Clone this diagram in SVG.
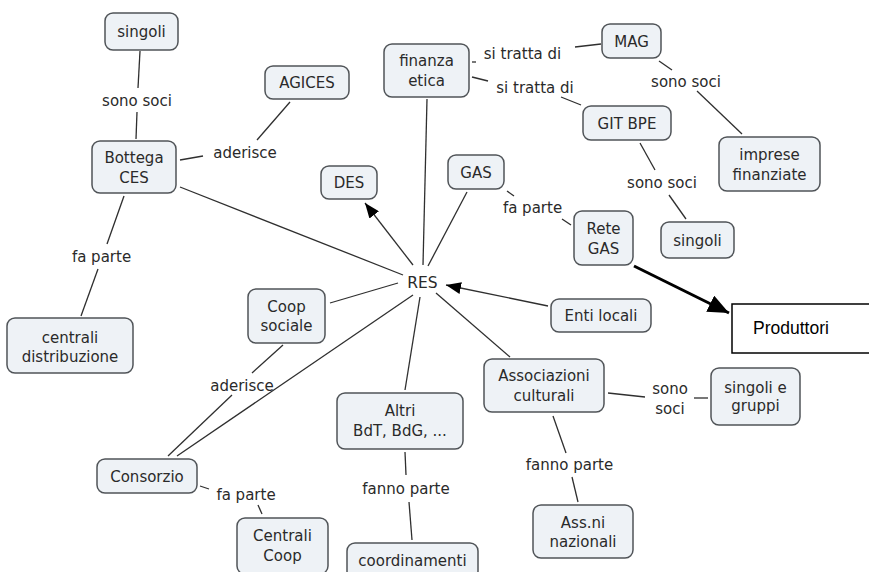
<svg xmlns="http://www.w3.org/2000/svg" width="869" height="572" viewBox="0 0 869 572">
<defs>
<style>
.n rect{fill:#eef2f6;stroke:#505458;stroke-width:1.5}
text{font-family:"DejaVu Sans","Verdana",sans-serif;font-size:15px;fill:#2a2a2a;text-anchor:middle}
.c line{stroke:#2f2f2f;stroke-width:1.3}
.p rect{fill:#fff;stroke:#000;stroke-width:1.5}
.p text{font-family:"Liberation Sans",Arial,sans-serif;font-size:17.5px;fill:#000;text-anchor:start}
</style>
<marker id="ah" markerUnits="userSpaceOnUse" markerWidth="16" markerHeight="12" refX="15" refY="6" orient="auto"><path d="M0,0 L15,6 L0,12 z" fill="#000"/></marker>
<marker id="ahb" markerUnits="userSpaceOnUse" markerWidth="22" markerHeight="18" refX="21" refY="9" orient="auto"><path d="M0,0 L21,9 L0,18 z" fill="#000"/></marker>
</defs>
<rect width="869" height="572" fill="#fff"/>
<g class="c" id="connectors">
<line x1="140" y1="51" x2="138" y2="88"/><line x1="137" y1="112" x2="136" y2="139"/>
<line x1="180" y1="160" x2="203" y2="156"/><line x1="257" y1="140" x2="290" y2="102"/>
<line x1="124" y1="196" x2="107" y2="244"/><line x1="98" y1="269" x2="81" y2="316"/>
<line x1="180" y1="187" x2="403" y2="275"/>
<line x1="472" y1="62" x2="476" y2="62"/><line x1="575" y1="47" x2="601" y2="44"/>
<line x1="472" y1="77" x2="488" y2="81"/><line x1="561" y1="97" x2="581" y2="105"/>
<line x1="659" y1="61" x2="672" y2="70"/><line x1="697" y1="91" x2="742" y2="134"/>
<line x1="640" y1="143" x2="655" y2="170"/><line x1="669" y1="195" x2="686" y2="219"/>
<line x1="427" y1="99" x2="423" y2="265"/>
<line x1="467" y1="192" x2="428" y2="266"/>
<line x1="507" y1="191" x2="514" y2="196"/><line x1="562" y1="219" x2="571" y2="225"/>
<line x1="413" y1="265" x2="365" y2="203" marker-end="url(#ah)"/>
<line x1="548" y1="306" x2="446" y2="285" marker-end="url(#ah)"/>
<line x1="634" y1="266" x2="729" y2="313" style="stroke:#000;stroke-width:3" marker-end="url(#ahb)"/>
<line x1="330" y1="303" x2="398" y2="283"/>
<line x1="413" y1="295" x2="177" y2="456"/>
<line x1="283" y1="345" x2="252" y2="373"/><line x1="232" y1="395" x2="168" y2="456"/>
<line x1="420" y1="297" x2="405" y2="390"/>
<line x1="436" y1="293" x2="510" y2="357"/>
<line x1="608" y1="393" x2="645" y2="397"/><line x1="694" y1="398" x2="708" y2="398"/>
<line x1="553" y1="416" x2="566" y2="453"/><line x1="572" y1="477" x2="578" y2="502"/>
<line x1="405" y1="452" x2="406" y2="475"/><line x1="409" y1="502" x2="412" y2="540"/>
<line x1="200" y1="486" x2="209" y2="489"/><line x1="258" y1="505" x2="262" y2="514"/>
</g>
<g id="labels">
<text x="137" y="105.5">sono soci</text>
<text x="245" y="157.5">aderisce</text>
<text x="522.5" y="58.5">si tratta di</text>
<text x="535" y="92.5">si tratta di</text>
<text x="686" y="86.5">sono soci</text>
<text x="662" y="187.5">sono soci</text>
<text x="532.5" y="212.5">fa parte</text>
<text x="101.5" y="261.5">fa parte</text>
<text x="242" y="390.5">aderisce</text>
<text x="670" y="393.5">sono</text><text x="670" y="413.5">soci</text>
<text x="406" y="493.5">fanno parte</text>
<text x="246" y="499.5">fa parte</text>
<text x="569.5" y="469.5">fanno parte</text>
</g>
<g class="n" id="singoli1"><rect x="105" y="13" width="73" height="37" rx="8"/><text x="141.5" y="37">singoli</text></g>
<g class="n" id="agices"><rect x="265" y="66" width="84" height="33" rx="8"/><text x="307" y="88">AGICES</text></g>
<g class="n" id="bottega"><rect x="92" y="141" width="84" height="52" rx="8"/><text x="134" y="162.5">Bottega</text><text x="134" y="182.5">CES</text></g>
<g class="n" id="finanza"><rect x="384" y="44" width="85" height="53" rx="8"/><text x="426.5" y="66">finanza</text><text x="426.5" y="86">etica</text></g>
<g class="n" id="mag"><rect x="602" y="24" width="59" height="34" rx="8"/><text x="631.5" y="46.5">MAG</text></g>
<g class="n" id="gitbpe"><rect x="583" y="106" width="88" height="34" rx="8"/><text x="627" y="128.5">GIT BPE</text></g>
<g class="n" id="imprese"><rect x="719" y="137" width="101" height="54" rx="8"/><text x="769.5" y="159.5">imprese</text><text x="769.5" y="179.5">finanziate</text></g>
<g class="n" id="singoli2"><rect x="661" y="222" width="73" height="36" rx="8"/><text x="697.5" y="245.5">singoli</text></g>
<g class="n" id="des"><rect x="321" y="166" width="56" height="33" rx="8"/><text x="349" y="188">DES</text></g>
<g class="n" id="gas"><rect x="448" y="155" width="56" height="34" rx="8"/><text x="476" y="177.5">GAS</text></g>
<g class="n" id="retegas"><rect x="574" y="211" width="59" height="54" rx="8"/><text x="603.5" y="233.5">Rete</text><text x="603.5" y="253.5">GAS</text></g>
<g id="res"><text x="422.5" y="287.5" style="font-size:15.5px">RES</text></g>
<g class="n" id="centrali"><rect x="7" y="318" width="126" height="55" rx="8"/><text x="70" y="342.5">centrali</text><text x="70" y="361.5">distribuzione</text></g>
<g class="n" id="coop"><rect x="248" y="289" width="77" height="54" rx="8"/><text x="286.5" y="312">Coop</text><text x="286.5" y="331">sociale</text></g>
<g class="n" id="enti"><rect x="551" y="299" width="100" height="33" rx="8"/><text x="601" y="321">Enti locali</text></g>
<g class="p" id="produttori"><rect x="732" y="304" width="140" height="49"/><text x="753" y="334">Produttori</text></g>
<g class="n" id="assoc"><rect x="484" y="359" width="120" height="53" rx="8"/><text x="544" y="380.5">Associazioni</text><text x="544" y="400.5">culturali</text></g>
<g class="n" id="singolig"><rect x="711" y="368" width="89" height="57" rx="8"/><text x="755.5" y="392.5">singoli e</text><text x="755.5" y="411">gruppi</text></g>
<g class="n" id="altri"><rect x="337" y="393" width="126" height="56" rx="8"/><text x="400" y="416">Altri</text><text x="400" y="436">BdT, BdG, ...</text></g>
<g class="n" id="consorzio"><rect x="97" y="459" width="100" height="34" rx="8"/><text x="147" y="481.5">Consorzio</text></g>
<g class="n" id="centralicoop"><rect x="237" y="518" width="91" height="56" rx="8"/><text x="282.5" y="540.5">Centrali</text><text x="282.5" y="560.5">Coop</text></g>
<g class="n" id="coord"><rect x="347" y="543" width="131" height="36" rx="8"/><text x="412.5" y="565.5">coordinamenti</text></g>
<g class="n" id="assni"><rect x="533" y="505" width="100" height="53" rx="8"/><text x="583" y="528">Ass.ni</text><text x="583" y="546.5">nazionali</text></g>
</svg>
